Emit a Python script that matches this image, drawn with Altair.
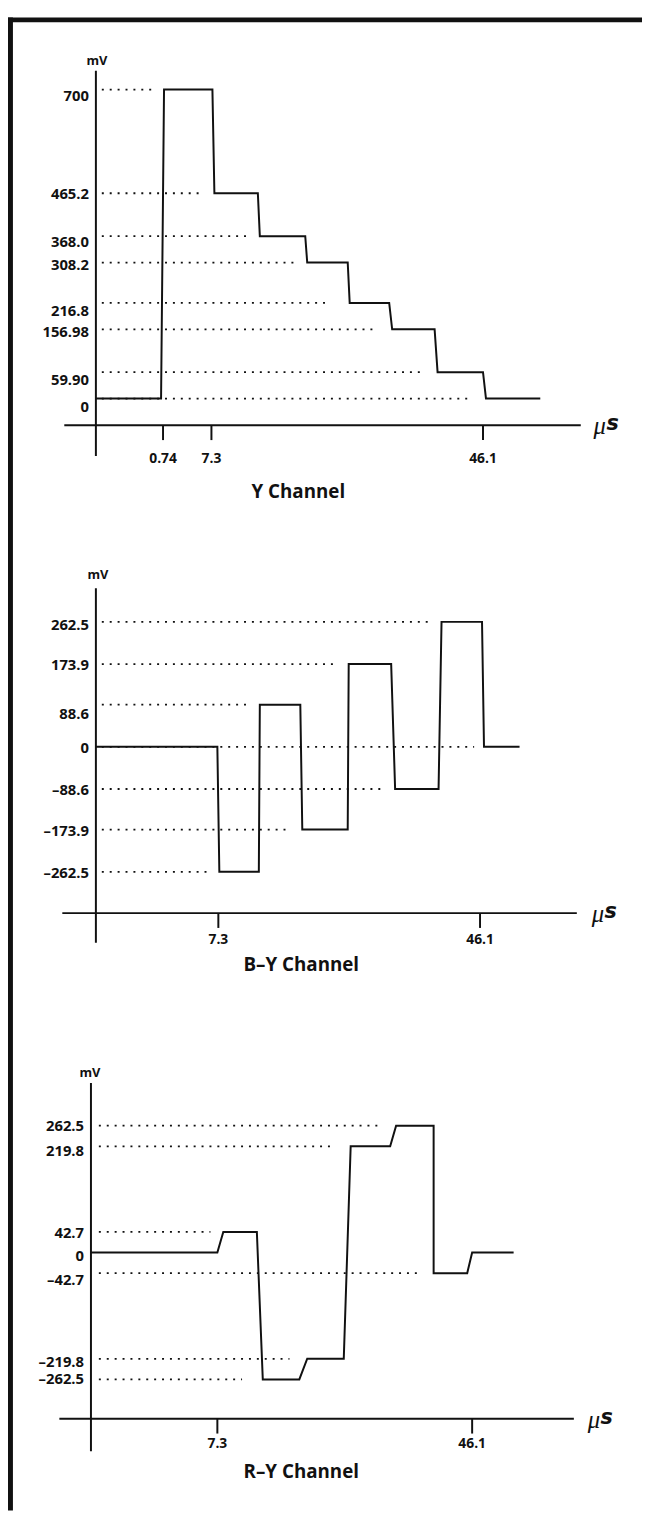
import altair as alt
import pandas as pd

INK = "#111111"
FONT = "Open Sans"

# ---------------- Y channel (mV levels, schematic time positions) ----------------
Y_STEP_LEVELS = [0, 700, 465.2, 368.0, 308.2, 216.8, 156.98, 59.90, 0]
Y_STEP_FROM = [0, 69, 120, 166, 214, 257, 300, 346, 395]
Y_STEP_TO = [66, 118, 164, 212, 255, 297, 343, 392, 450]
Y_AXIS_VALUES = [700, 465.2, 368.0, 308.2, 216.8, 156.98, 59.90, 0]
Y_AXIS_LABELS = ["700", "465.2", "368.0", "308.2", "216.8", "156.98", "59.90", "0"]
Y_GUIDE_VALUES = [700, 465.2, 368.0, 308.2, 216.8, 156.98, 59.90, 0]
Y_GUIDE_TO = [56, 108, 153, 201, 238, 285, 331, 378]
Y_TICK_AT = [68, 117, 392]
Y_TICK_LABELS = ["0.74", "7.3", "46.1"]

# ---------------- B-Y channel ----------------
BY_STEP_LEVELS = [0, -262.5, 88.6, -173.9, 173.9, -88.6, 262.5, 0]
BY_STEP_FROM = [0, 125, 166, 209, 256, 303, 350, 393]
BY_STEP_TO = [123, 165, 207, 255, 299, 347, 391, 429]
BY_AXIS_VALUES = [262.5, 173.9, 88.6, 0, -88.6, -173.9, -262.5]
BY_AXIS_LABELS = ["262.5", "173.9", "88.6", "0", "–88.6", "–173.9", "–262.5"]
BY_GUIDE_VALUES = [262.5, 173.9, 88.6, 0, -88.6, -173.9, -262.5]
BY_GUIDE_TO = [338, 243, 155, 383, 288, 198, 113]
BY_TICK_AT = [124, 389]
BY_TICK_LABELS = ["7.3", "46.1"]

# ---------------- R-Y channel ----------------
RY_STEP_LEVELS = [0, 42.7, -262.5, -219.8, 219.8, 262.5, -42.7, 0]
RY_STEP_FROM = [0, 134, 174, 219, 263, 309, 347, 386]
RY_STEP_TO = [128, 168, 211, 256, 303, 347, 381, 428]
RY_AXIS_VALUES = [262.5, 219.8, 42.7, 0, -42.7, -219.8, -262.5]
RY_AXIS_LABELS = ["262.5", "219.8", "42.7", "0", "–42.7", "–219.8", "–262.5"]
RY_GUIDE_VALUES = [262.5, 219.8, 42.7, -42.7, -219.8, -262.5]
RY_GUIDE_TO = [291, 248, 121, 333, 201, 153]
RY_TICK_AT = [128, 386]
RY_TICK_LABELS = ["7.3", "46.1"]

# ---------------- layout / style (page pixels; the plot area is the whole page) ----------------
W, H = 642, 1512
ORIGIN = 8  # page margin
LAYOUT = [
    dict(axis_x=97, zero_y=394, k=0.447, top=62, xaxis_y=421, ybot=452, guide_from=6,
         ends=(-32, 491), mu=504, tick_label_y=455, title=(205, 489), mv=(1, 52),
         nudge=[7, 1, 6, 3, 8, 3, 8, 9]),
    dict(axis_x=97, zero_y=746.6, k=0.482, top=586, xaxis_y=915, ybot=945, guide_from=6,
         ends=(-34, 487), mu=502, tick_label_y=942, title=(208, 968), mv=(2, 573),
         nudge=[3, 1, 10, 1, 1, 1, 1]),
    dict(axis_x=92, zero_y=1258.7, k=0.4894, top=1087, xaxis_y=1427, ybot=1460, guide_from=8,
         ends=(-32, 489), mu=503, tick_label_y=1453, title=(213, 1481), mv=(-1, 1077),
         nudge=[0, 5, 1, 4, 7, 3, 0]),
]


def py(page_y):
    return page_y - ORIGIN


def panel(levels, sfrom, sto, avals, alabels, gvals, gto, tick_at, tick_labels, title, lay):
    ox = lay["axis_x"] - ORIGIN
    xs = alt.Scale(domain=[-ox, W - ox], nice=False, zero=False)
    z = lay["zero_y"] - ORIGIN
    k = lay["k"]
    ys = alt.Scale(domain=[(z - H) / k, z / k], nice=False, zero=False)

    def X(f):
        return alt.X(f, type="quantitative", scale=xs, axis=None)

    def Y(f):
        return alt.Y(f, type="quantitative", scale=ys, axis=None)

    rows = []
    for i, (lv, a, b) in enumerate(zip(levels, sfrom, sto)):
        rows.append({"x": a, "mv": lv, "seq": 2 * i})
        rows.append({"x": b, "mv": lv, "seq": 2 * i + 1})
    steps = pd.DataFrame(rows)
    guides = pd.DataFrame({"x0": [lay["guide_from"]] * len(gvals), "x1": gto, "mv": gvals})
    labels = pd.DataFrame({"ax": [0] * len(avals), "mv": avals, "label": alabels,
                           "nudge": lay["nudge"]})
    ticks = pd.DataFrame({"t": tick_at, "label": tick_labels})

    layers = [
        alt.Chart(guides).mark_rule(color=INK, strokeWidth=1.8, strokeDash=[2, 6]).encode(
            x=X("x0"), x2="x1", y=Y("mv")),
        alt.Chart(steps).mark_line(color=INK, strokeWidth=2, strokeJoin="miter").encode(
            x=X("x"), y=Y("mv"), order="seq:Q"),
    ]
    for n in sorted(set(lay["nudge"])):
        sub = labels[labels["nudge"] == n]
        layers.append(
            alt.Chart(sub).mark_text(align="right", baseline="middle", dx=-7, dy=n, font=FONT,
                                     fontSize=15, fontWeight="bold", color=INK).encode(
                x=X("ax"), y=Y("mv"), text="label:N"))
    layers += [
        # x axis line
        alt.Chart(pd.DataFrame({"a": [lay["ends"][0]], "b": [lay["ends"][1]]}))
        .mark_rule(color=INK, strokeWidth=2).encode(x=X("a"), x2="b", y=alt.value(py(lay["xaxis_y"]))),
        # y axis line
        alt.Chart(pd.DataFrame({"a": [0]})).mark_rule(color=INK, strokeWidth=2).encode(
            x=X("a"), y=alt.value(py(lay["top"])), y2=alt.value(py(lay["ybot"]))),
        # time ticks
        alt.Chart(ticks).mark_rule(color=INK, strokeWidth=2).encode(
            x=X("t"), y=alt.value(py(lay["xaxis_y"])), y2=alt.value(py(lay["xaxis_y"]) + 15)),
        alt.Chart(ticks).mark_text(align="center", baseline="middle", font=FONT, fontSize=14,
                                   fontWeight="bold", color=INK).encode(
            x=X("t"), y=alt.value(py(lay["tick_label_y"])), text="label:N"),
        # channel title
        alt.Chart(pd.DataFrame({"a": [lay["title"][0]], "t": [title]})).mark_text(
            align="center", baseline="middle", font=FONT, fontSize=19, fontWeight="bold",
            color=INK).encode(x=X("a"), y=alt.value(py(lay["title"][1])), text="t:N"),
        # units
        alt.Chart(pd.DataFrame({"a": [lay["mv"][0]], "t": ["mV"]})).mark_text(
            align="center", baseline="middle", font=FONT, fontSize=13, fontWeight="bold",
            color=INK).encode(x=X("a"), y=alt.value(py(lay["mv"][1])), text="t:N"),
        alt.Chart(pd.DataFrame({"a": [lay["mu"]], "t": ["μ"]})).mark_text(
            align="left", baseline="middle", font="Liberation Serif", fontStyle="italic",
            fontSize=25, color=INK).encode(x=X("a"), y=alt.value(py(lay["xaxis_y"]) + 1), text="t:N"),
        alt.Chart(pd.DataFrame({"a": [lay["mu"] + 13], "t": ["s"]})).mark_text(
            align="left", baseline="middle", font="DejaVu Sans", fontStyle="italic",
            fontWeight="bold", fontSize=21, color=INK).encode(
            x=X("a"), y=alt.value(py(lay["xaxis_y"]) - 1), text="t:N"),
    ]
    return alt.layer(*layers)


p1 = panel(Y_STEP_LEVELS, Y_STEP_FROM, Y_STEP_TO, Y_AXIS_VALUES, Y_AXIS_LABELS,
           Y_GUIDE_VALUES, Y_GUIDE_TO, Y_TICK_AT, Y_TICK_LABELS, "Y Channel", LAYOUT[0])
p2 = panel(BY_STEP_LEVELS, BY_STEP_FROM, BY_STEP_TO, BY_AXIS_VALUES, BY_AXIS_LABELS,
           BY_GUIDE_VALUES, BY_GUIDE_TO, BY_TICK_AT, BY_TICK_LABELS, "B–Y Channel", LAYOUT[1])
p3 = panel(RY_STEP_LEVELS, RY_STEP_FROM, RY_STEP_TO, RY_AXIS_VALUES, RY_AXIS_LABELS,
           RY_GUIDE_VALUES, RY_GUIDE_TO, RY_TICK_AT, RY_TICK_LABELS, "R–Y Channel", LAYOUT[2])

frame_left = alt.Chart(pd.DataFrame({"k": [0]})).mark_rule(color=INK, strokeWidth=5).encode(
    x=alt.value(2.5), y=alt.value(0), y2=alt.value(H))
frame_top = alt.Chart(pd.DataFrame({"k": [0]})).mark_rule(color=INK, strokeWidth=5).encode(
    x=alt.value(0), x2=alt.value(W), y=alt.value(2.5))

chart = (
    alt.layer(frame_left, frame_top, p1, p2, p3)
    .resolve_scale(x="independent", y="independent")
    .properties(width=W, height=H, padding=0,
                autosize=alt.AutoSizeParams(type="none"))
    .configure(background="white", view=alt.ViewConfig(stroke=None))
)

chart.save("out.html", embed_options={"renderer": "svg", "actions": False})
